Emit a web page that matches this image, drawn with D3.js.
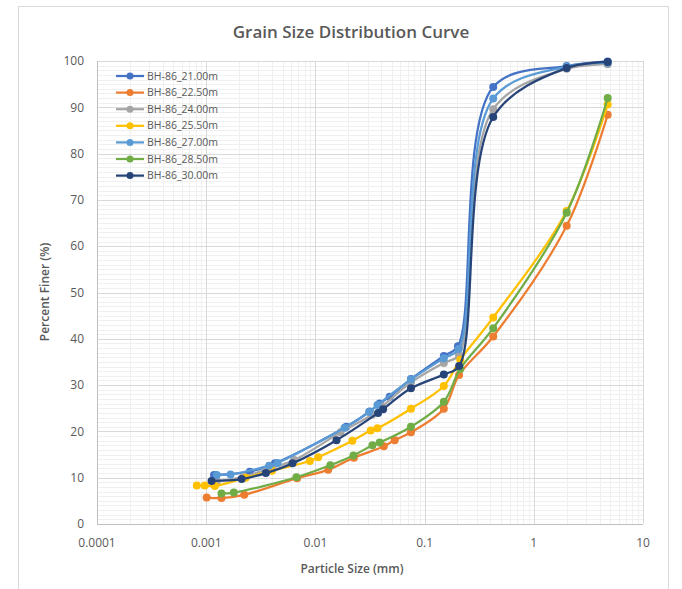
<!DOCTYPE html>
<meta charset="utf-8"/>
<head>
<script src="https://d3js.org/d3.v7.min.js"></script>
<style>
  body { margin: 0; background: #fff; }
  svg { font-family: 'Open Sans', sans-serif; }
  .grid-major { stroke: #d9d9d9; stroke-width: 1px; shape-rendering: crispEdges; }
  .grid-minor { stroke: #f0f0f0; stroke-width: 1px; shape-rendering: crispEdges; }
  .tick-label { fill: #595959; font-size: 12px; }
  .legend-label { fill: #595959; font-size: 10.5px; }
</style>
</head>
<body>
<div id="chart"></div>
<script type="text/javascript">

// series names in legend order
var seriesNames = ["BH-86_21.00m", "BH-86_22.50m", "BH-86_24.00m", "BH-86_25.50m",
                   "BH-86_27.00m", "BH-86_28.50m", "BH-86_30.00m"];

// [particle size (mm), percent finer]
var bh2100 = [[0.00118,10.6],[0.00251,11.3],[0.00426,13.1],[0.0192,21.0],[0.0315,24.3],[0.0388,26.0],
              [0.0479,27.5],[0.075,31.3],[0.15,36.3],[0.202,38.4],[0.425,94.4],[2.0,98.9],[4.75,99.9]];
var bh2250 = [[0.00101,5.7],[0.00138,5.6],[0.00223,6.3],[0.0068,9.9],[0.0131,11.7],[0.0225,14.3],
              [0.0423,16.8],[0.0532,18.1],[0.075,19.8],[0.15,24.9],[0.207,32.2],[0.425,40.5],[2.0,64.4],[4.75,88.4]];
var bh2400 = [[0.00125,9.2],[0.0022,10.2],[0.0036,11.8],[0.0064,13.8],[0.017,19.8],[0.033,23.6],
              [0.041,25.4],[0.075,30.6],[0.15,34.8],[0.206,36.5],[0.425,89.6],[2.0,98.3],[4.75,99.3]];
var bh2550 = [[0.00082,8.3],[0.00097,8.3],[0.0012,8.2],[0.0023,10.0],[0.004,11.5],[0.0089,13.6],[0.0106,14.4],
              [0.0218,18.0],[0.0321,20.2],[0.037,20.7],[0.075,24.9],[0.15,29.8],[0.212,35.5],[0.425,44.6],[2.0,67.6],[4.75,90.6]];
var bh2700 = [[0.00125,10.6],[0.00167,10.7],[0.00377,12.6],[0.0045,13.2],[0.0185,20.8],[0.031,24.2],
              [0.037,25.7],[0.075,31.2],[0.15,35.8],[0.205,37.8],[0.425,91.9],[2.0,98.8],[4.75,99.6]];
var bh2850 = [[0.00138,6.6],[0.00179,6.8],[0.0067,10.1],[0.0137,12.7],[0.0223,14.8],[0.0333,17.0],
              [0.0388,17.6],[0.075,21.0],[0.15,26.4],[0.212,33.5],[0.425,42.3],[2.0,67.2],[4.75,92.0]];
var bh3000 = [[0.00112,9.3],[0.00211,9.7],[0.00352,11.0],[0.00617,13.1],[0.0156,18.1],[0.0375,24.0],
              [0.0417,24.8],[0.075,29.3],[0.15,32.3],[0.207,34.1],[0.425,87.9],[2.0,98.5],[4.75,99.8]];

var xTicks = [0.0001, 0.001, 0.01, 0.1, 1, 10];
var yTicks = [0, 10, 20, 30, 40, 50, 60, 70, 80, 90, 100];

var allSeries = [bh2100, bh2250, bh2400, bh2550, bh2700, bh2850, bh3000];
var colors = ["#4472c4", "#ed7d31", "#a5a5a5", "#ffc000", "#5b9bd5", "#70ad47", "#264478"];

var W = 682, H = 589;
var margin = { top: 61, right: 39, bottom: 65, left: 97 },
    width = W - margin.left - margin.right,
    height = H - margin.top - margin.bottom;

var svg = d3.select("#chart").append("svg")
    .attr("width", W)
    .attr("height", H);

// chart border
svg.append("rect")
    .attr("x", 18.5).attr("y", 6.5)
    .attr("width", 650).attr("height", 590)
    .attr("fill", "none").attr("stroke", "#d9d9d9");

var g = svg.append("g")
    .attr("transform", "translate(" + margin.left + "," + margin.top + ")");

var x = d3.scaleLog().domain([0.0001, 10]).range([0, width]);
var y = d3.scaleLinear().domain([0, 100]).range([height, 0]);

// minor gridlines
var xMinor = [];
xTicks.slice(0, -1).forEach(function(t) {
  for (var k = 2; k <= 9; k++) xMinor.push(t * k);
});
var yMinor = d3.range(0, 101, 1).filter(function(v) { return v % 10 != 0; });

g.selectAll(".ym").data(yMinor).enter().append("line")
    .attr("class", "grid-minor")
    .attr("x1", 0).attr("x2", width)
    .attr("y1", function(d) { return Math.round(y(d)) + 0.5; })
    .attr("y2", function(d) { return Math.round(y(d)) + 0.5; });

g.selectAll(".xm").data(xMinor).enter().append("line")
    .attr("class", "grid-minor")
    .attr("y1", 0).attr("y2", height)
    .attr("x1", function(d) { return Math.round(x(d)) + 0.5; })
    .attr("x2", function(d) { return Math.round(x(d)) + 0.5; });

// major gridlines
g.selectAll(".yM").data(yTicks).enter().append("line")
    .attr("class", "grid-major")
    .attr("x1", 0).attr("x2", width)
    .attr("y1", function(d) { return Math.round(y(d)) + 0.5; })
    .attr("y2", function(d) { return Math.round(y(d)) + 0.5; });

g.selectAll(".xM").data(xTicks).enter().append("line")
    .attr("class", "grid-major")
    .attr("y1", 0).attr("y2", height)
    .attr("x1", function(d) { return Math.round(x(d)) + 0.5; })
    .attr("x2", function(d) { return Math.round(x(d)) + 0.5; });

// axis lines
g.append("line").attr("x1", 0.5).attr("x2", 0.5).attr("y1", 0).attr("y2", height)
    .attr("stroke", "#bfbfbf");
g.append("line").attr("x1", 0).attr("x2", width).attr("y1", height + 0.5).attr("y2", height + 0.5)
    .attr("stroke", "#bfbfbf");

// tick labels
g.selectAll(".yl").data(yTicks).enter().append("text")
    .attr("class", "tick-label")
    .attr("x", -13).attr("y", function(d) { return y(d); })
    .attr("dy", "0.35em")
    .attr("text-anchor", "end")
    .text(function(d) { return d; });

g.selectAll(".xl").data(xTicks).enter().append("text")
    .attr("class", "tick-label")
    .attr("x", function(d) { return x(d); })
    .attr("y", height + 23)
    .attr("text-anchor", "middle")
    .text(function(d) { return d; });

// series
var line = d3.line()
    .x(function(d) { return x(d[0]); })
    .y(function(d) { return y(d[1]); })
    .curve(d3.curveCatmullRom.alpha(0.5));

allSeries.forEach(function(data, i) {
  var s = g.append("g");
  s.append("path")
      .datum(data)
      .attr("d", line)
      .attr("fill", "none")
      .attr("stroke", colors[i])
      .attr("stroke-width", 2.25)
      .attr("stroke-linejoin", "round");
  s.selectAll("circle").data(data).enter().append("circle")
      .attr("cx", function(d) { return x(d[0]); })
      .attr("cy", function(d) { return y(d[1]); })
      .attr("r", 4)
      .attr("fill", colors[i]);
});

// legend
var legend = svg.append("g").attr("transform", "translate(116,76)");
seriesNames.forEach(function(name, i) {
  var row = legend.append("g").attr("transform", "translate(0," + (i * 16.6) + ")");
  row.append("line").attr("x1", 0).attr("x2", 28).attr("y1", 0).attr("y2", 0)
      .attr("stroke", colors[i]).attr("stroke-width", 2.25);
  row.append("circle").attr("cx", 14).attr("cy", 0).attr("r", 3.5).attr("fill", colors[i]);
  row.append("text").attr("class", "legend-label")
      .attr("x", 31).attr("y", 0).attr("dy", "0.35em")
      .text(name);
});

// titles
svg.append("text")
    .attr("x", 351).attr("y", 38)
    .attr("text-anchor", "middle")
    .attr("fill", "#595959")
    .style("font-size", "17px").style("font-weight", 600)
    .text("Grain Size Distribution Curve");

svg.append("text")
    .attr("x", 352).attr("y", 573)
    .attr("text-anchor", "middle")
    .attr("fill", "#595959")
    .style("font-size", "12px").style("font-weight", 600)
    .text("Particle Size (mm)");

svg.append("text")
    .attr("transform", "translate(49,292) rotate(-90)")
    .attr("text-anchor", "middle")
    .attr("fill", "#595959")
    .style("font-size", "12px").style("font-weight", 600)
    .text("Percent Finer (%)");

</script>
</body>
